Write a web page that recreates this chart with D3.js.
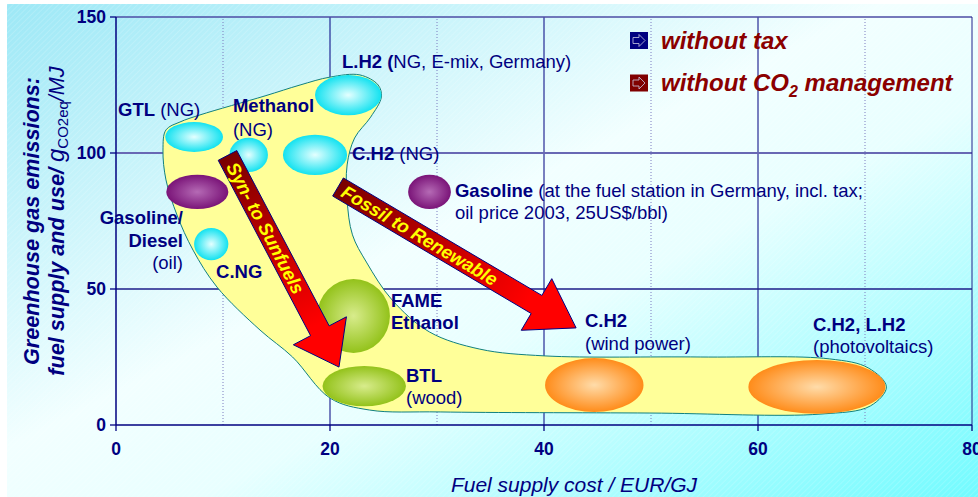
<!DOCTYPE html>
<html><head><meta charset="utf-8">
<script src="https://cdn.jsdelivr.net/npm/d3@7"></script>
<style>
html,body{margin:0;padding:0;background:#fff;}
svg{display:block;font-family:"Liberation Sans",Arial,sans-serif;}
</style></head><body>
<svg id="chart" width="978" height="497"></svg>
<script>
// ---------------- data ----------------
const xTicks = [0, 20, 40, 60, 80];
const yTicks = [0, 50, 100, 150];
const xMinorTicks = [10, 30, 50, 70];
const xTitle = "Fuel supply cost / EUR/GJ";

// fuel pathways: cost range (EUR/GJ) and GHG range (g CO2eq/MJ)
const fuelNames = ["GTL (NG)", "Methanol (NG)", "Gasoline/Diesel (oil)", "C.NG", "C.H2 (NG)",
  "L.H2 (NG, E-mix)", "Gasoline (fuel station, incl. tax)", "FAME / Ethanol", "BTL (wood)",
  "C.H2 (wind power)", "C.H2, L.H2 (photovoltaics)"];
const fuelGroup = ["fossilgas", "fossilgas", "oil", "fossilgas", "fossilgas", "fossilgas", "oil",
  "bio", "bio", "renew", "renew"];
const costMin = [4.6, 10.6, 4.7, 7.3, 15.6, 18.6, 27.3, 18.8, 19.3, 40.1, 59.1];
const costMax = [10.0, 14.2, 10.5, 10.5, 21.6, 24.8, 31.3, 25.6, 27.1, 49.3, 71.9];
const ghgMin = [100.4, 93.0, 79.4, 60.6, 91.9, 113.9, 79.4, 26.5, 6.9, 4.8, 4.1];
const ghgMax = [111.4, 105.6, 92.0, 72.4, 106.7, 128.7, 92.0, 53.7, 21.7, 24.6, 23.9];

// outline of the highlighted pathway band (cost, ghg)
const bandCost = [4.39, 4.67, 5.98, 7.85, 13.93, 17.2, 20.0, 22.8, 24.5, 24.8, 23.8, 22.3, 21.6, 21.6,
  22.1, 23.4, 25.8, 29.3, 34.0, 40.1, 54.6, 66.7, 70.3, 72.0, 70.5, 65.8, 49.9, 30.3, 23.7, 20.0,
  16.5, 13.46, 9.44, 7.2, 5.7, 4.67];
const bandGhg = [101.1, 108.5, 111.4, 114.0, 121.0, 125.0, 127.9, 128.7, 125.0, 120.6, 113.2, 105.5,
  95.6, 82.7, 69.9, 59.9, 46.0, 34.2, 27.9, 25.4, 25.0, 24.3, 21.0, 14.0, 7.0, 4.0, 4.4, 4.8, 5.5,
  9.9, 25.0, 34.9, 50.7, 64.3, 77.2, 90.1];

// transition arrows
const arrowLabels = ["Syn- to Sunfuels", "Fossil to Renewable"];
const arrowFromCost = [10.42, 20.75];
const arrowFromGhg = [99.1, 87.5];
const arrowToCost = [20.84, 43.0];
const arrowToGhg = [21.3, 35.7];

const legendLabels = ["without tax", "without CO2 management"];

// ---------------- layout ----------------
const W = 978, H = 497;
const svg = d3.select("#chart");
const x = d3.scaleLinear().domain([0, 80]).range([116, 972]);
const y = d3.scaleLinear().domain([0, 150]).range([425, 17]);
const NAVY = "#000080";
const defs = svg.append("defs");

function addLinear(id, stops, attrs) {
  const g = defs.append("linearGradient").attr("id", id);
  Object.entries(attrs).forEach(([k, v]) => g.attr(k, v));
  stops.forEach(([o, c]) => g.append("stop").attr("offset", o).attr("stop-color", c));
  return g;
}
function addRadial(id, inner, outer) {
  const g = defs.append("radialGradient").attr("id", id).attr("cx", "50%").attr("cy", "50%").attr("r", "50%");
  g.append("stop").attr("offset", 0).attr("stop-color", inner);
  g.append("stop").attr("offset", 1).attr("stop-color", outer);
}
addLinear("bg", [[0, "#9de8f6"], [0.45, "#f2ffff"], [0.6, "#e8ffff"], [1, "#72fbff"]],
  {x1: 0, y1: 0, x2: 1, y2: 1});
addRadial("g-fossilgas", "#e4ffff", "#12e2f0");
addRadial("g-oil", "#b56ab5", "#7a1478");
addRadial("g-bio", "#d8ec8c", "#93c21a");
addRadial("g-renew", "#ffdcaa", "#ff8c1a");

const pat = defs.append("pattern").attr("id", "hatch").attr("width", 4).attr("height", 4)
  .attr("patternUnits", "userSpaceOnUse").attr("patternTransform", "rotate(45)");
pat.append("line").attr("x1", 0).attr("y1", 0).attr("x2", 0).attr("y2", 4)
  .attr("stroke", "#ffffff").attr("stroke-width", 1).attr("opacity", 0.3);

// background
svg.append("rect").attr("x", 7).attr("y", 4).attr("width", W - 7).attr("height", H - 4).attr("fill", "url(#bg)");
svg.append("rect").attr("x", 7).attr("y", 4).attr("width", W - 7).attr("height", H - 4).attr("fill", "url(#hatch)");

// grid
const grid = svg.append("g");
grid.selectAll(".minor").data(xMinorTicks).join("line")
  .attr("x1", d => x(d)).attr("x2", d => x(d)).attr("y1", y(0)).attr("y2", y(150))
  .attr("stroke", "#7c7cc0").attr("stroke-width", 1).attr("stroke-dasharray", "1,2");
grid.selectAll(".vmaj").data(xTicks.filter(d => d > 0 && d < 80)).join("line")
  .attr("x1", d => x(d)).attr("x2", d => x(d)).attr("y1", y(0)).attr("y2", y(150))
  .attr("stroke", NAVY).attr("stroke-width", 1);
grid.selectAll(".hmaj").data(yTicks.filter(d => d > 0 && d < 150)).join("line")
  .attr("x1", x(0)).attr("x2", x(80)).attr("y1", d => y(d)).attr("y2", d => y(d))
  .attr("stroke", d => d === 100 ? "#6868b4" : "#1c1c88").attr("stroke-width", d => d === 100 ? 2 : 1.3);
grid.append("line").attr("x1", x(0)).attr("x2", x(80)).attr("y1", y(150)).attr("y2", y(150))
  .attr("stroke", "#4c4ca4").attr("stroke-width", 1.5);
grid.append("line").attr("x1", x(80)).attr("x2", x(80)).attr("y1", y(0)).attr("y2", y(150))
  .attr("stroke", "#22228c").attr("stroke-width", 1);

// band
const bandPts = bandCost.map((c, i) => [x(c), y(bandGhg[i])]);
svg.append("path").attr("d", d3.line().curve(d3.curveCatmullRomClosed.alpha(0.5))(bandPts))
  .attr("fill", "#ffff99").attr("stroke", "#108080").attr("stroke-width", 1);

// ellipses
svg.append("g").selectAll("ellipse").data(fuelNames).join("ellipse")
  .attr("cx", (d, i) => (x(costMin[i]) + x(costMax[i])) / 2)
  .attr("cy", (d, i) => (y(ghgMin[i]) + y(ghgMax[i])) / 2)
  .attr("rx", (d, i) => (x(costMax[i]) - x(costMin[i])) / 2)
  .attr("ry", (d, i) => (y(ghgMin[i]) - y(ghgMax[i])) / 2)
  .attr("fill", (d, i) => `url(#g-${fuelGroup[i]})`);

// axes
const axes = svg.append("g").attr("fill", NAVY).attr("font-weight", "bold").attr("font-size", 17.5);
axes.append("line").attr("x1", x(0)).attr("x2", x(0)).attr("y1", y(0)).attr("y2", y(150)).attr("stroke", NAVY).attr("stroke-width", 1.5);
axes.append("line").attr("x1", x(0)).attr("x2", x(80)).attr("y1", y(0)).attr("y2", y(0)).attr("stroke", NAVY).attr("stroke-width", 1.5);
axes.selectAll(".yt").data(yTicks).join("line").attr("x1", x(0) - 6).attr("x2", x(0))
  .attr("y1", d => y(d)).attr("y2", d => y(d)).attr("stroke", NAVY).attr("stroke-width", 1.3);
axes.selectAll(".xt").data(xTicks).join("line").attr("y1", y(0)).attr("y2", y(0) + 6)
  .attr("x1", d => x(d)).attr("x2", d => x(d)).attr("stroke", NAVY).attr("stroke-width", 1.3);
axes.selectAll(".yl").data(yTicks).join("text").attr("x", x(0) - 10).attr("y", d => y(d) + 6)
  .attr("text-anchor", "end").text(d => d);
axes.selectAll(".xl").data(xTicks).join("text").attr("x", d => x(d)).attr("y", y(0) + 30)
  .attr("text-anchor", "middle").text(d => d);

// axis titles
svg.append("text").attr("x", 574).attr("y", 492).attr("text-anchor", "middle")
  .attr("font-size", 21).attr("font-style", "italic").attr("fill", NAVY).text(xTitle);
const yt1 = svg.append("text").attr("transform", `translate(39,${(y(0) + y(150)) / 2}) rotate(-90)`)
  .attr("text-anchor", "middle").attr("font-size", 21.6).attr("font-style", "italic")
  .attr("font-weight", "bold").attr("fill", NAVY).text("Greenhouse gas emissions:");
const yt2 = svg.append("text").attr("transform", `translate(64,${(y(0) + y(150)) / 2}) rotate(-90)`)
  .attr("text-anchor", "middle").attr("font-size", 21.6).attr("font-style", "italic").attr("fill", NAVY);
yt2.append("tspan").attr("font-weight", "bold").text("fuel supply and use/ ");
yt2.append("tspan").attr("font-size", 24).text("g");
yt2.append("tspan").attr("font-size", 15).attr("font-style", "normal").attr("dy", 4).text("CO2eq");
yt2.append("tspan").attr("dy", -4).text("/MJ");

// arrows
const ag = svg.append("g");
arrowLabels.forEach((lab, i) => {
  const sx = x(arrowFromCost[i]), sy = y(arrowFromGhg[i]);
  const tx = x(arrowToCost[i]), ty = y(arrowToGhg[i]);
  const len = Math.hypot(tx - sx, ty - sy);
  const ux = (tx - sx) / len, uy = (ty - sy) / len;
  const nx = -uy, ny = ux;
  const w = 10.5, hw = 30, hl = i === 0 ? 41 : 46;
  const bx = tx - ux * hl, by = ty - uy * hl;
  const pts = [[sx + nx * w, sy + ny * w], [bx + nx * w, by + ny * w], [bx + nx * hw, by + ny * hw], [tx, ty],
    [bx - nx * hw, by - ny * hw], [bx - nx * w, by - ny * w], [sx - nx * w, sy - ny * w]];
  const gid = "arr" + i;
  addLinear(gid, [[0, "#7a0000"], [0.55, "#d40000"], [0.8, "#ff0000"], [1, "#ff0000"]],
    {gradientUnits: "userSpaceOnUse", x1: sx, y1: sy, x2: tx, y2: ty});
  ag.append("path").attr("d", "M" + pts.map(p => p.join(",")).join("L") + "Z")
    .attr("fill", `url(#${gid})`).attr("stroke", NAVY).attr("stroke-width", 1);
  const ang = Math.atan2(uy, ux) * 180 / Math.PI;
  const off = i === 0 ? 9 : 6;
  ag.append("text").attr("transform", `translate(${sx + ux * off},${sy + uy * off}) rotate(${ang})`)
    .attr("dy", "0.36em").attr("font-size", 18.5).attr("font-weight", "bold").attr("font-style", "italic")
    .attr("fill", "#ffff00").text(lab);
});

// fuel labels (anchor in data units; parts: [text, bold])
const labelRows = [
  {c: 0.19, g: 113.6, a: "start", parts: [["GTL", 1], [" (NG)", 0]]},
  {c: 10.93, g: 115.1, a: "start", parts: [["Methanol", 1]]},
  {c: 10.93, g: 106.3, a: "start", parts: [["(NG)", 0]]},
  {c: 21.12, g: 131.3, a: "start", parts: [["L.H2 (", 1], ["NG, E-mix, Germany)", 0]]},
  {c: 22.06, g: 97.4, a: "start", parts: [["C.H2", 1], [" (NG)", 0]]},
  {c: 31.68, g: 83.8, a: "start", parts: [["Gasoline", 1], [" (at the fuel station in Germany, incl. tax;", 0]]},
  {c: 31.68, g: 75.7, a: "start", parts: [["oil price 2003, 25US$/bbl)", 0]]},
  {c: 6.26, g: 73.9, a: "end", parts: [["Gasoline/", 1]]},
  {c: 6.26, g: 65.4, a: "end", parts: [["Diesel", 1]]},
  {c: 6.26, g: 57.3, a: "end", parts: [["(oil)", 0]]},
  {c: 9.35, g: 54.0, a: "start", parts: [["C.NG", 1]]},
  {c: 25.7, g: 43.4, a: "start", parts: [["FAME", 1]]},
  {c: 25.7, g: 35.3, a: "start", parts: [["Ethanol", 1]]},
  {c: 27.1, g: 15.8, a: "start", parts: [["BTL", 1]]},
  {c: 27.1, g: 7.8, a: "start", parts: [["(wood)", 0]]},
  {c: 43.83, g: 36.0, a: "start", parts: [["C.H2", 1]]},
  {c: 43.83, g: 27.6, a: "start", parts: [["(wind power)", 0]]},
  {c: 65.14, g: 34.6, a: "start", parts: [["C.H2, L.H2", 1]]},
  {c: 65.14, g: 26.5, a: "start", parts: [["(photovoltaics)", 0]]}
];
const lg = svg.append("g").attr("font-size", 18.5).attr("fill", NAVY);
labelRows.forEach(r => {
  const t = lg.append("text").attr("x", x(r.c)).attr("y", y(r.g)).attr("text-anchor", r.a);
  r.parts.forEach(p => t.append("tspan").attr("font-weight", p[1] ? "bold" : "normal").text(p[0]));
});

// legend
const legColors = ["#000080", "#800000"];
const leg = svg.append("g");
legendLabels.forEach((lab, i) => {
  const ly = 32 + i * 42.5;
  leg.append("rect").attr("x", 630).attr("y", ly).attr("width", 18).attr("height", 17).attr("fill", legColors[i]);
  leg.append("path").attr("d", `M${633},${ly + 5.5}h6v-3l6,6l-6,6v-3h-6z`)
    .attr("fill", "none").attr("stroke", "#c8c8e0").attr("stroke-width", 0.8);
  const t = leg.append("text").attr("x", 661).attr("y", ly + 16.5).attr("font-size", 24)
    .attr("font-weight", "bold").attr("font-style", "italic").attr("fill", "#8b0000");
  if (lab.indexOf("CO2") >= 0) {
    t.append("tspan").text("without CO");
    t.append("tspan").attr("font-size", 16).attr("dy", 6).text("2");
    t.append("tspan").attr("dy", -6).text(" management");
  } else {
    t.text(lab);
  }
});
</script>
</body></html>
